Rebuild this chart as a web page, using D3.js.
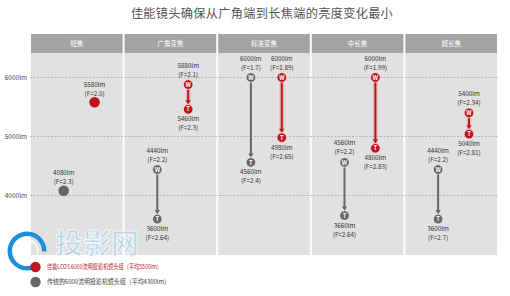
<!DOCTYPE html>
<html><head><meta charset="utf-8">
<script src="https://cdn.jsdelivr.net/npm/d3@7"></script>
<style>body{margin:0;background:#fff}svg{display:block}text{font-family:"Noto Sans CJK SC","Noto Sans",sans-serif}</style>
</head><body><svg id="c" width="510" height="296"></svg>
<script>
const title = "佳能镜头确保从广角端到长焦端的亮度变化最小";
const categories = ["短焦","广角变焦","标准变焦","中长焦","超长焦"];
const yTicks = [4000,5000,6000];
// Canon (red) series
const canonWide = [5580,5880,6000,6000,5400];
const canonWideF = ["2.0","2.1","1.89","1.99","2.34"];
const canonTele = [null,5460,4980,4800,5040];
const canonTeleF = [null,"2.3","2.65","2.83","2.81"];
// Conventional (gray) series
const convWide = [4080,4440,6000,4560,4440];
const convWideF = ["2.3","2.2","1.7","2.2","2.2"];
const convTele = [null,3600,4560,3660,3600];
const convTeleF = [null,"2.64","2.4","2.64","2.7"];
const legendLabels = ["佳能LCOS 6000流明投影机镜头组（平均5500lm）","传统的6000流明投影机镜头组（平均4300lm）"];

const RED="#c0141a", GRAY="#666666";
const svg = d3.select("#c");
const x = d3.scaleBand().domain(categories).range([30,498]).padding(0);
const sub = d3.scalePoint().domain(["conv","canon"]).range([0.36,0.69]);
const y = d3.scaleLinear().domain([4000,6000]).range([195.5,77.5]);

svg.append("text").attr("x",262).attr("y",18).attr("text-anchor","middle")
  .attr("font-size",12.2).attr("fill","#555").attr("letter-spacing",0.3).text(title);

// bands
categories.forEach(c=>{
  const x0=x(c), w=x.bandwidth();
  svg.append("rect").attr("x",x0+1).attr("y",34).attr("width",w-2).attr("height",19).attr("fill","#a4a4a4");
  svg.append("rect").attr("x",x0+1).attr("y",53).attr("width",w-2).attr("height",202).attr("fill","#e1e1e1");
  svg.append("text").attr("x",x0+w/2).attr("y",46).attr("text-anchor","middle").attr("font-size",6.5).attr("fill","#fff").text(c);
});
// grid
yTicks.forEach(t=>{
  svg.append("line").attr("x1",30).attr("x2",498).attr("y1",y(t)).attr("y2",y(t))
    .attr("stroke","#a8a8a8").attr("stroke-width",0.8).attr("stroke-dasharray","2,1.5");
  svg.append("text").attr("x",27).attr("y",y(t)+2.5).attr("text-anchor","end").attr("font-size",6.5).attr("fill","#444").text(t+"lm");
});

// watermark
const wm = svg.append("g");
wm.append("path").attr("transform","translate(27,251)")
  .attr("d",d3.arc()({innerRadius:15,outerRadius:19.5,startAngle:2.6,endAngle:2*Math.PI+1.6}))
  .attr("fill","#1a8fdc");
wm.append("circle").attr("cx",27).attr("cy",251).attr("r",11).attr("fill","none").attr("stroke","#fff").attr("stroke-width",2).attr("opacity",0.7);
wm.append("text").attr("x",55).attr("y",254).attr("font-size",28).attr("font-weight","bold")
  .attr("fill","#a9d3f2").attr("stroke","#fff").attr("stroke-width",1).attr("opacity",0.7).text("投影网");

function labelPair(g,cx,yb,a,b){
  g.append("text").attr("x",cx).attr("y",yb).attr("text-anchor","middle").attr("font-size",6.3).attr("fill","#333").text(a);
  g.append("text").attr("x",cx).attr("y",yb+9).attr("text-anchor","middle").attr("font-size",6.3).attr("fill","#333").text(b);
}
function drawSeries(key,color,wide,wideF,tele,teleF){
  const g = svg.append("g");
  categories.forEach((c,i)=>{
    const cx = x(c)+sub(key)*x.bandwidth();
    const yw = y(wide[i]);
    if(tele[i]==null){
      g.append("circle").attr("cx",cx).attr("cy",yw).attr("r",5.3).attr("fill",color);
      labelPair(g,cx,yw-15.5,wide[i]+"lm","(F="+wideF[i]+")");
      return;
    }
    const yt = y(tele[i]);
    if(key==="canon") g.append("line").attr("x1",cx).attr("x2",cx).attr("y1",yw).attr("y2",yt)
      .attr("stroke","#e88").attr("stroke-width",5).attr("opacity",0.35);
    g.append("line").attr("x1",cx).attr("x2",cx).attr("y1",yw+4).attr("y2",yt-8)
      .attr("stroke",color).attr("stroke-width",2);
    g.append("path").attr("d",`M${cx-2.6},${yt-9}L${cx+2.6},${yt-9}L${cx},${yt-4.8}Z`).attr("fill",color);
    [[yw,"W"],[yt,"T"]].forEach(([yy,l])=>{
      g.append("circle").attr("cx",cx).attr("cy",yy).attr("r",4.8).attr("fill",color).attr("stroke","#fff").attr("stroke-width",0.6);
      g.append("text").attr("x",cx).attr("y",yy+2.1).attr("text-anchor","middle").attr("font-size",5.8)
        .attr("font-weight","bold").attr("fill","#fff").text(l);
    });
    labelPair(g,cx,yw-17,wide[i]+"lm","(F="+wideF[i]+")");
    labelPair(g,cx,yt+12,tele[i]+"lm","(F="+teleF[i]+")");
  });
}
drawSeries("conv",GRAY,convWide,convWideF,convTele,convTeleF);
drawSeries("canon",RED,canonWide,canonWideF,canonTele,canonTeleF);

// legend
const lg=[{c:RED,t:legendLabels[0],tc:"#b0282a",y:267,w:115},{c:GRAY,t:legendLabels[1],tc:"#444",y:282,w:123}];
lg.forEach(d=>{
  svg.append("circle").attr("cx",35.5).attr("cy",d.y).attr("r",5.2).attr("fill",d.c);
  svg.append("text").attr("x",47).attr("y",d.y+2.3).attr("font-size",6.3).attr("fill",d.tc)
    .attr("textLength",d.w).attr("lengthAdjust","spacingAndGlyphs").text(d.t);
});
</script></body></html>
